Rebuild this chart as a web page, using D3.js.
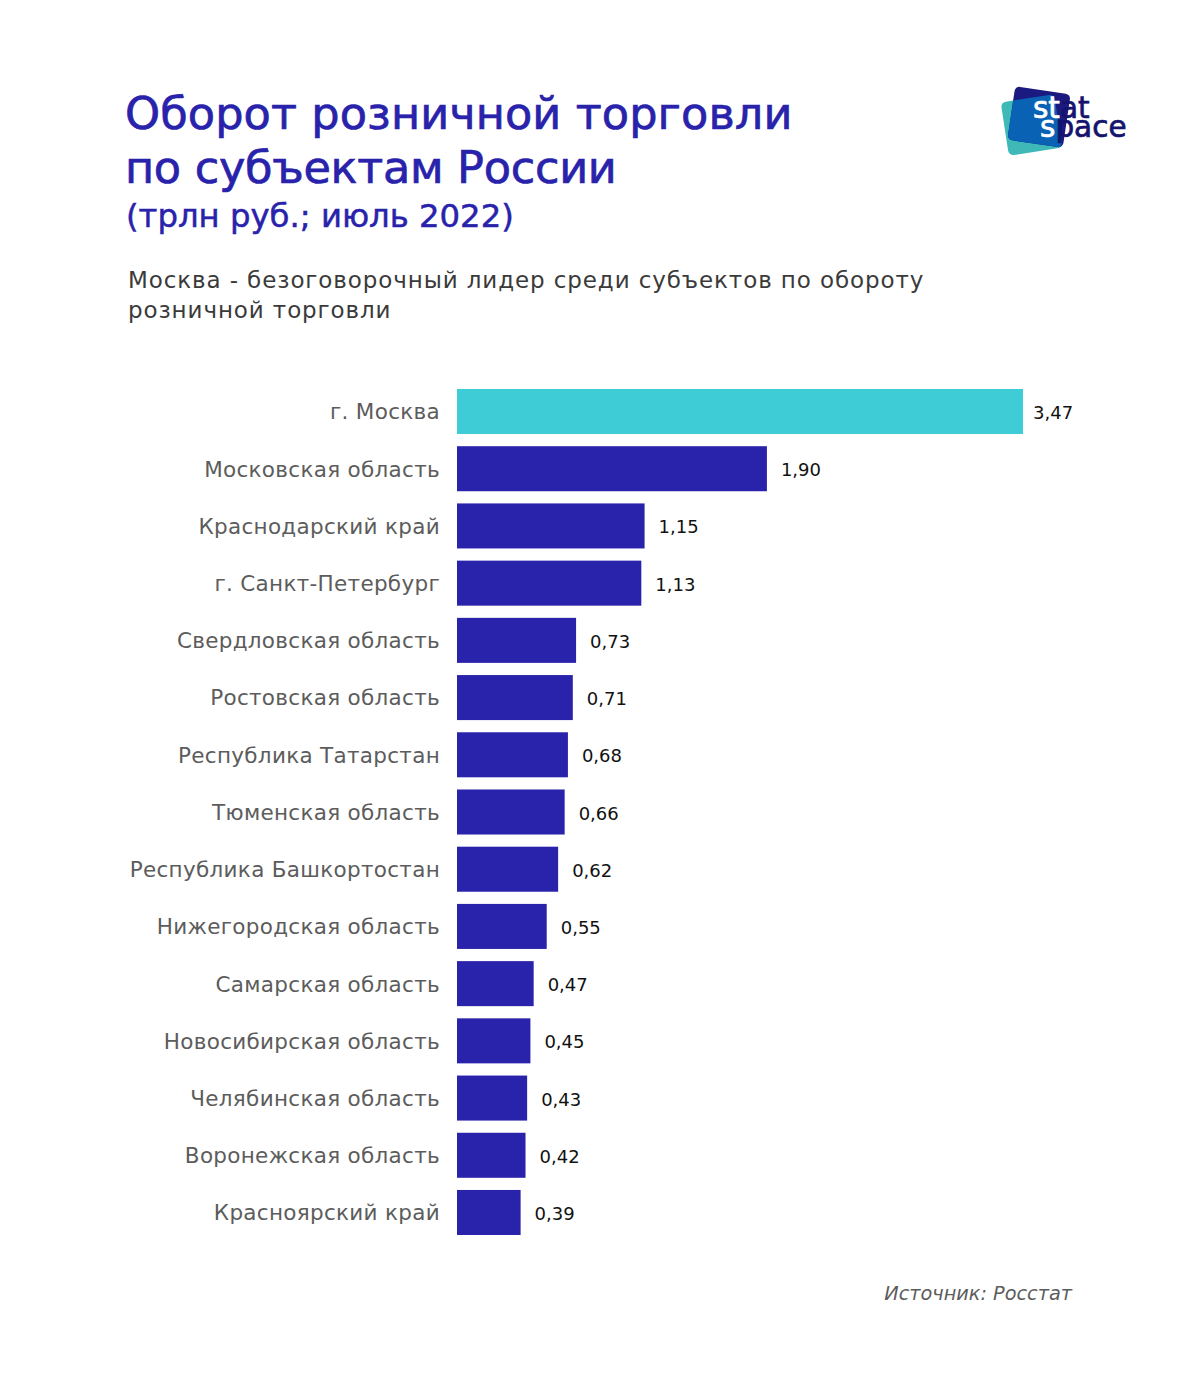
<!DOCTYPE html>
<html lang="ru">
<head>
<meta charset="utf-8">
<script src="https://cdn.jsdelivr.net/npm/d3@7"></script>
<style>
body { margin: 0; background: #fff; }
svg { display: block; }
text { font-family: "DejaVu Sans", sans-serif; }
.title { fill: #2922ab; stroke: #2922ab; stroke-width: 0.7px; font-size: 44.6px; }
.subtitle { fill: #2922ab; stroke: #2922ab; stroke-width: 0.5px; font-size: 32.3px; }
.lead { fill: #3a3a3a; font-size: 23px; letter-spacing: 0.9px; }
.axis-y text { fill: #5c5c5c; font-size: 21.5px; letter-spacing: 0.3px; }
.axis-y path, .axis-y line { display: none; }
.value { fill: #111; font-size: 18px; }
.source { fill: #5c5c5c; font-size: 19.3px; font-style: italic; text-anchor: end; }
.logo-text { font-size: 29.5px; stroke-width: 0.7px; }
</style>
</head>
<body>
<svg id="chart" width="1200" height="1386"></svg>
<script>
const regions = ['г. Москва', 'Московская область', 'Краснодарский край', 'г. Санкт-Петербург',
    'Свердловская область', 'Ростовская область', 'Республика Татарстан', 'Тюменская область',
    'Республика Башкортостан', 'Нижегородская область', 'Самарская область', 'Новосибирская область',
    'Челябинская область', 'Воронежская область', 'Красноярский край'];
const turnover = [3.47, 1.90, 1.15, 1.13, 0.73, 0.71, 0.68, 0.66, 0.62, 0.55, 0.47, 0.45, 0.43, 0.42, 0.39];
const titleLines = ['Оборот розничной торговли', 'по субъектам России'];
const subtitle = '(трлн руб.; июль 2022)';
const leadLines = ['Москва - безоговорочный лидер среди субъектов по обороту', 'розничной торговли'];
const source = 'Источник: Росстат';

const svg = d3.select('#chart');
const xScale = d3.scaleLinear().domain([0, 3.47]).range([457, 1023]);
const yScale = d3.scaleBand().domain(regions).range([389, 1235]).paddingInner(0.213);
const fmt = d => d.toFixed(2).replace('.', ',');

svg.selectAll('.title').data(titleLines).enter().append('text')
    .attr('class', 'title')
    .attr('x', 125)
    .attr('y', (d, i) => 129 + i * 54)
    .style('letter-spacing', (d, i) => i === 0 ? '0.1px' : '-0.3px')
    .text(d => d);
svg.append('text').attr('class', 'subtitle').attr('x', 126).attr('y', 227).text(subtitle);
svg.selectAll('.lead').data(leadLines).enter().append('text')
    .attr('class', 'lead')
    .attr('x', 128)
    .attr('y', (d, i) => 288 + i * 30)
    .text(d => d);

const yAxisG = svg.append('g')
    .attr('class', 'axis-y')
    .attr('transform', 'translate(457, 1)')
    .call(d3.axisLeft(yScale).tickSize(0).tickPadding(17));

svg.selectAll('.bar').data(regions).enter().append('rect')
    .attr('class', 'bar')
    .attr('x', xScale(0))
    .attr('y', d => yScale(d))
    .attr('width', (d, i) => xScale(turnover[i]) - xScale(0))
    .attr('height', yScale.bandwidth())
    .attr('fill', (d, i) => i === 0 ? '#3ecdd6' : '#2922ab');

svg.selectAll('.value').data(regions).enter().append('text')
    .attr('class', 'value')
    .attr('x', (d, i) => xScale(turnover[i]) + (i === 0 ? 10 : 14))
    .attr('y', d => yScale(d) + yScale.bandwidth() / 2 + 7.5)
    .text((d, i) => fmt(turnover[i]));

svg.append('text').attr('class', 'source').attr('x', 1072).attr('y', 1300).text(source);

// logo: two tilted squares, the overlap is a lighter blue
const navyRect = s => s.attr('x', -28).attr('y', -27).attr('width', 56).attr('height', 54).attr('rx', 5)
    .attr('transform', 'translate(1039, 117) rotate(8.4)');
const tealRect = s => s.attr('x', -27).attr('y', -27).attr('width', 54).attr('height', 54).attr('rx', 5)
    .attr('transform', 'translate(1031.5, 125) rotate(-8.7)');
svg.append('defs').append('clipPath').attr('id', 'clip-navy')
    .call(c => navyRect(c.append('rect')));

const logo = svg.append('g');
tealRect(logo.append('rect')).attr('fill', '#3fb8b8');
navyRect(logo.append('rect')).attr('fill', '#1a1a80');
logo.append('g').attr('clip-path', 'url(#clip-navy)')
    .call(g => tealRect(g.append('rect')).attr('fill', '#0a62b4'));

// letters over the squares are white, the rest navy
const logoWords = [
    {x: 1033, y: 118, parts: [['st', '#fff'], ['at', '#14146e']]},
    {x: 1040, y: 137, parts: [['s', '#fff'], ['pace', '#14146e']]}
];
logoWords.forEach(w => {
    const t = logo.append('text').attr('class', 'logo-text').attr('x', w.x).attr('y', w.y);
    w.parts.forEach(([s, colour]) => {
        t.append('tspan').attr('fill', colour).attr('stroke', colour).text(s);
    });
});
</script>
</body>
</html>
